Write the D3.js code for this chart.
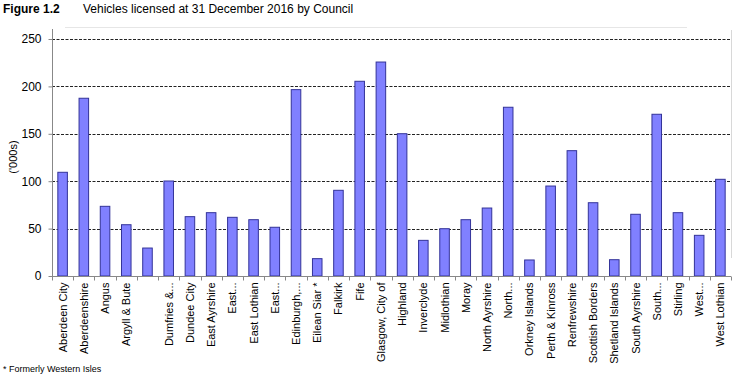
<!DOCTYPE html>
<html><head><meta charset="utf-8">
<script src="https://cdn.jsdelivr.net/npm/d3@7"></script>
<style>body{margin:0;background:#fff}svg{display:block;font-family:"Liberation Sans",Arial,sans-serif}</style>
</head><body><svg id="c" width="738" height="378"></svg>
<script>
const categories = ["Aberdeen City","Aberdeenshire","Angus","Argyll & Bute","","Dumfries &...","Dundee City","East Ayrshire","East...","East Lothian","East...","Edinburgh,...","Eilean Siar *","Falkirk","Fife","Glasgow, City of","Highland","Inverclyde","Midlothian","Moray","North Ayrshire","North...","Orkney Islands","Perth & Kinross","Renfrewshire","Scottish Borders","Shetland Islands","South Ayrshire","South...","Stirling","West...","West Lothian"];
const values = [109.4,187.5,73.5,54.1,29.5,100.2,62.6,66.8,61.9,59.4,51.4,196.6,18.3,90.4,205.4,225.7,150.1,37.6,49.9,59.4,71.7,178,16.9,94.9,132.2,77.3,17.2,65.1,170.6,66.8,42.9,102];
const yTicks = [0,50,100,150,200,250];

const svg = d3.select("#c");
const L = 52, R = 731, T = 39, B = 276;
const x = d3.scaleBand().domain(d3.range(categories.length)).range([L, R]).paddingInner(0.55).paddingOuter(0.275);
const y = d3.scaleLinear().domain([0, 250]).range([B, T]);

// faint frame
svg.append("line").attr("x1", 65).attr("x2", 687).attr("y1", 27.5).attr("y2", 27.5).attr("stroke", "#e6e6e6");
svg.append("line").attr("x1", R + 0.5).attr("x2", R + 0.5).attr("y1", 30).attr("y2", 258).attr("stroke", "#d8d8d8");

// gridlines
svg.append("g").selectAll("line").data(yTicks.filter(d => d > 0)).join("line")
  .attr("x1", L).attr("x2", R).attr("y1", d => Math.round(y(d)) + 0.5).attr("y2", d => Math.round(y(d)) + 0.5)
  .attr("stroke", "#222").attr("stroke-dasharray", "3,1.5").attr("stroke-width", 1);

// bars
svg.append("g").selectAll("rect").data(values).join("rect")
  .attr("x", (d, i) => x(i)).attr("width", x.bandwidth())
  .attr("y", d => y(d)).attr("height", d => B - y(d))
  .attr("fill", "#8080ff").attr("stroke", "#333399").attr("stroke-width", 1);

// y axis
const ya = svg.append("g").attr("transform", `translate(${L + 0.5},0)`)
  .call(d3.axisLeft(y).tickValues(yTicks).tickSize(4).tickPadding(7));
ya.select(".domain").attr("stroke", "#888").attr("d", `M-0,29V${B}`);
ya.selectAll(".tick line").attr("stroke", "#888");
ya.selectAll("text").attr("font-size", 12).attr("fill", "#000").attr("font-family", "Liberation Sans, Arial, sans-serif");

// x axis
const xa = svg.append("g").attr("transform", `translate(0,${B + 0.5})`);
xa.append("line").attr("x1", L).attr("x2", R).attr("stroke", "#888");
const step = x.step();
xa.selectAll("line.tk").data(d3.range(categories.length + 1)).join("line").attr("class", "tk")
  .attr("x1", i => Math.round(x(0) - x.paddingOuter() * step + i * step) + 0.5)
  .attr("x2", i => Math.round(x(0) - x.paddingOuter() * step + i * step) + 0.5)
  .attr("y1", 0).attr("y2", 4).attr("stroke", "#888");
xa.selectAll("text").data(categories).join("text")
  .attr("transform", (d, i) => `translate(${x(i) + x.bandwidth() / 2 + 4},6) rotate(-90)`)
  .attr("text-anchor", "end").attr("font-size", 11).text(d => d);

// y title
svg.append("text").attr("transform", `translate(17,157) rotate(-90)`).attr("text-anchor", "middle")
  .attr("font-size", 11).text("('000s)");

// title
svg.append("text").attr("x", 3).attr("y", 13).attr("font-size", 12).attr("font-weight", "bold").text("Figure 1.2");
svg.append("text").attr("x", 83).attr("y", 13).attr("font-size", 12).text("Vehicles licensed at 31 December 2016 by Council");

// footnote
svg.append("text").attr("x", 3).attr("y", 372).attr("font-size", 9).text("* Formerly Western Isles");
</script></body></html>
